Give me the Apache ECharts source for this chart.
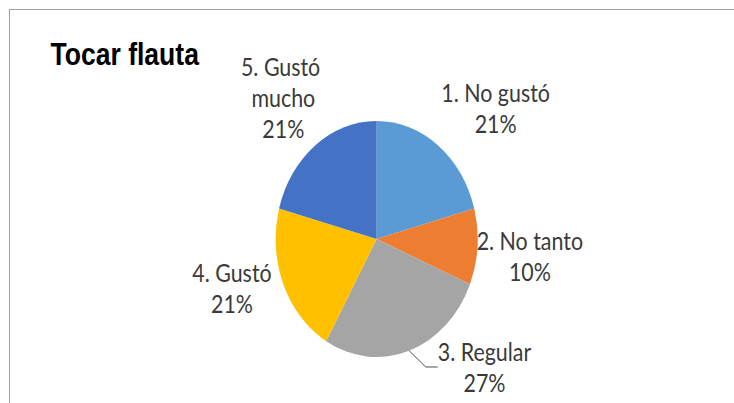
<!DOCTYPE html>
<html>
<head>
<meta charset="utf-8">
<title>Tocar flauta</title>
<script src="https://cdn.jsdelivr.net/npm/echarts@6/dist/echarts.min.js"></script>
<style>
    html, body { margin: 0; padding: 0; background: #fff; overflow: hidden; }
    #frame {
        position: absolute; left: 9px; top: 9px; width: 740px; height: 400px;
        border-top: 1px solid #a0a0a0; border-left: 1px solid #a0a0a0;
    }
    /* the source picture is squeezed horizontally, so the pie is an oval */
    #main {
        position: absolute; left: 0; top: 0; width: 857px; height: 403px;
        transform: scaleX(0.856); transform-origin: 0 0;
    }
</style>
</head>
<body>
<div id="frame"></div>
<div id="main"></div>
<script>
    // respuestas (cantidad de alumnos)
    var categories = ['1. No gustó', '2. No tanto', '3. Regular', '4. Gustó', '5. Gustó mucho'];
    var counts = [10, 5, 13, 10, 10];
    var colors = ['#5b9bd5', '#ed7d31', '#a5a5a5', '#ffc000', '#4472c4'];

    // where each label block sits (center), in chart px
    var labelSpots = [[579, 108], [619, 256], [566, 367], [271, 288], [331, 97]];

    var chart = echarts.init(document.getElementById('main'), null, {renderer: 'svg'});

    var values = categories.map(function (name, i) {
        var item = {
            name: name,
            value: counts[i],
            itemStyle: {color: colors[i]},
            labelLine: {show: i === 2}
        };
        if (i === 4) {
            item.label = {width: 125, overflow: 'break'};
        }
        return item;
    });

    var option = {
        animation: false,
        title: {
            text: 'Tocar flauta',
            left: 54,
            top: 34,
            textStyle: {
                fontFamily: 'Liberation Sans',
                fontSize: 31,
                fontWeight: 'bold',
                color: '#000'
            }
        },
        series: [
            {
                type: 'pie',
                center: [440, 239],
                radius: 118,
                startAngle: 90,
                clockwise: true,
                percentPrecision: 0,
                avoidLabelOverlap: false,
                itemStyle: {borderWidth: 0},
                label: {
                    show: true,
                    position: 'outside',
                    formatter: '{b}\n{d}%',
                    fontFamily: 'Lato',
                    fontSize: 25,
                    lineHeight: 31,
                    color: '#3a3a3a',
                    align: 'center'
                },
                labelLine: {
                    length: 10,
                    length2: 14,
                    lineStyle: {color: '#404040', width: 1}
                },
                labelLayout: function (p) {
                    var spot = labelSpots[p.dataIndex];
                    return {
                        x: spot[0],
                        y: spot[1],
                        align: 'center',
                        verticalAlign: 'middle'
                    };
                },
                data: values
            }
        ]
    };

    chart.setOption(option);
</script>
</body>
</html>
